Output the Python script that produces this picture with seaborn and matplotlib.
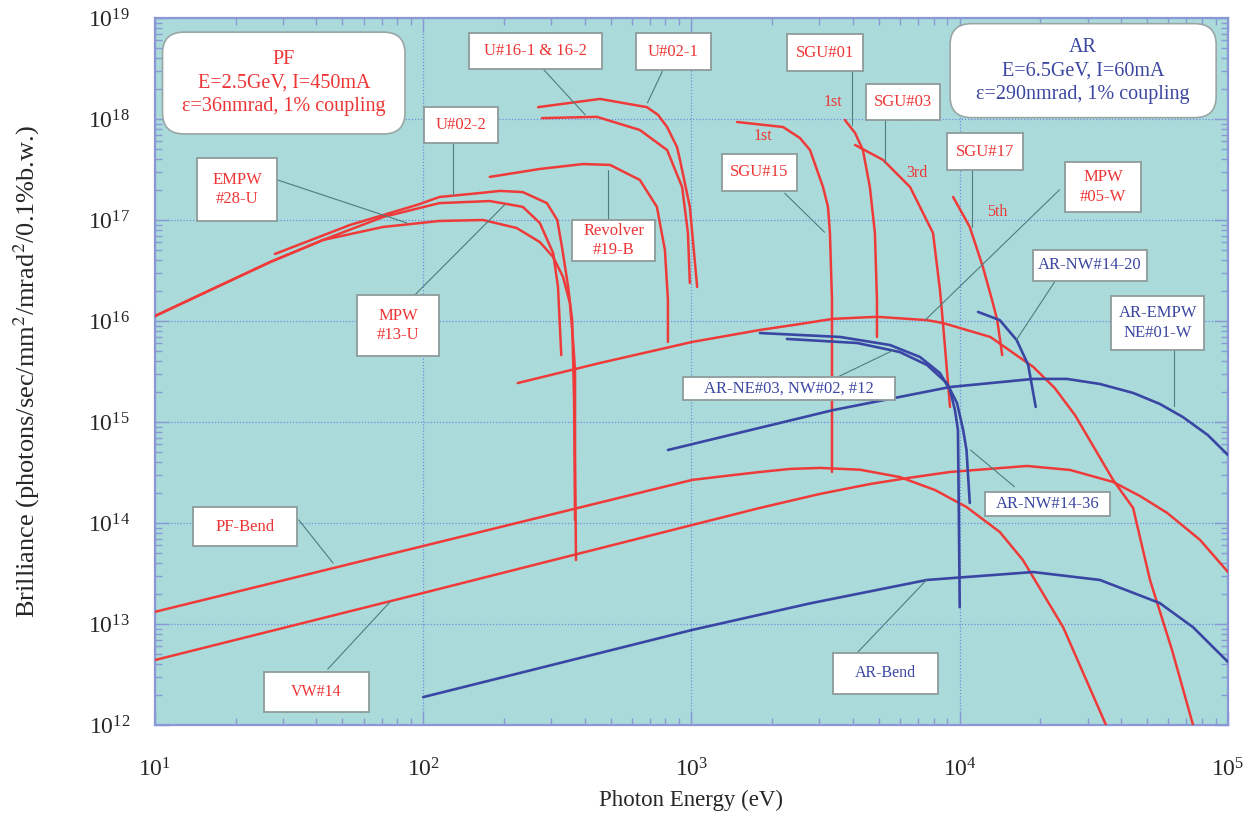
import numpy as np
import pandas as pd
import seaborn as sns
import matplotlib
matplotlib.use("Agg")
import matplotlib.pyplot as plt
from matplotlib.patches import FancyBboxPatch, Rectangle
from matplotlib.ticker import LogLocator, LogFormatterSciNotation, NullFormatter

# ---------------- data (photon energy in eV, brilliance) ----------------
E_pf_bend = [10, 100, 1005, 1334, 1800, 2328, 3010, 4246, 5980, 8090, 10600, 14100, 17200,
             24300, 35100]
B_pf_bend = [1.32e13, 5.92e13, 2.67e14, 2.92e14, 3.20e14, 3.43e14, 3.51e14, 3.37e14, 2.85e14,
             2.12e14, 1.44e14, 8.15e13, 4.3e13, 9.3e12, 1.0e12]

E_vw14 = [10, 100, 1005, 1800, 3010, 4624, 6410, 9200, 17800, 25800, 37300, 47000, 59300,
          78700, 100000]
B_vw14 = [4.40e12, 2.03e13, 9.55e13, 1.41e14, 1.94e14, 2.43e14, 2.79e14, 3.20e14, 3.67e14,
          3.35e14, 2.55e14, 1.85e14, 1.26e14, 6.8e13, 3.27e13]

E_mpw05 = [225, 456, 1005, 1800, 2535, 3365, 4915, 7550, 8660, 13000, 18800, 22600, 26900,
           37300, 44300, 51200, 61900, 74100]
B_mpw05 = [2.43e15, 3.84e15, 6.20e15, 8.15e15, 9.33e15, 1.05e16, 1.10e16, 1.02e16, 9.55e15,
           6.95e15, 3.51e15, 2.17e15, 1.17e15, 2.67e14, 1.41e14, 2.73e13, 5.5e12, 1.0e12]

E_empw28 = [10, 17, 26.9, 42.3, 70.8, 115, 167, 223, 272, 305, 332, 352, 361, 368, 368, 371]
B_empw28 = [1.12e16, 2.17e16, 3.84e16, 6.34e16, 8.53e16, 9.78e16, 1.0e17, 8.33e16, 6.05e16,
            4.30e16, 2.73e16, 1.51e16, 6.95e15, 3.27e15, 5.28e14, 4.30e13]

E_mpw13 = [10, 17, 26.9, 42.3, 70.8, 115, 177, 235, 272, 305, 318, 327]
B_mpw13 = [1.12e16, 2.17e16, 3.84e16, 6.34e16, 1.07e17, 1.47e17, 1.54e17, 1.35e17, 9.34e16,
           4.71e16, 2.17e16, 4.60e15]

E_u022 = [28.0, 53.3, 94.8, 115, 163, 193, 235, 289, 316, 329, 347, 359, 365, 368]
B_u022 = [4.61e16, 8.92e16, 1.41e17, 1.69e17, 1.85e17, 1.94e17, 1.89e17, 1.47e17, 1.0e17,
          5.41e16, 2.17e16, 1.02e16, 1.65e15, 1.07e14]

E_rev19 = [177, 272, 394, 497, 642, 743, 796, 817, 817]
B_rev19 = [2.67e17, 3.20e17, 3.58e17, 3.51e17, 2.49e17, 1.35e17, 5.05e16, 1.61e16, 6.20e15]

E_u021 = [268, 456, 682, 750, 811, 883, 906, 986, 1050]
B_u021 = [1.31e18, 1.58e18, 1.31e18, 1.10e18, 8.33e17, 5.28e17, 3.93e17, 1.35e17, 2.17e16]

E_u16 = [277, 444, 642, 811, 923, 970, 986]
B_u16 = [1.02e18, 1.05e18, 7.78e17, 4.93e17, 2.12e17, 7.44e16, 2.38e16]

E_sgu15 = [1479, 2195, 2535, 2766, 3093, 3228, 3282, 3340, 3340]
B_sgu15 = [9.34e17, 8.33e17, 6.49e17, 4.93e17, 2.12e17, 1.35e17, 7.44e16, 1.61e16, 3.20e14]

E_sgu01 = [3733, 4074, 4355, 4624, 4828, 4915, 4915]
B_sgu01 = [9.77e17, 7.26e17, 4.93e17, 2.12e17, 7.44e16, 1.61e16, 6.95e15]

E_sgu03 = [4074, 5180, 6530, 7950, 8440, 8660, 9200]
B_sgu03 = [5.53e17, 3.93e17, 2.12e17, 7.44e16, 2.03e16, 9.55e15, 1.41e15]

E_sgu17 = [9450, 10900, 12200, 13200, 13800, 14400]
B_sgu17 = [1.69e17, 8.53e16, 3.43e16, 1.61e16, 1.02e16, 4.60e15]

E_ar_bend = [100, 193, 1005, 2766, 7550, 18800, 33300, 55700, 74100, 100000]
B_ar_bend = [1.89e12, 2.92e12, 8.73e12, 1.6e13, 2.73e13, 3.27e13, 2.73e13, 1.61e13, 9.3e12, 4.21e12]

E_ar_empw = [817, 3365, 9200, 18800, 25100, 33300, 44300, 55700, 67900, 84100, 100000]
B_ar_empw = [5.28e14, 1.31e15, 2.22e15, 2.67e15, 2.67e15, 2.38e15, 1.94e15, 1.51e15, 1.12e15,
             7.43e14, 4.71e14]

E_ar_ne03 = [1800, 3580, 5500, 7110, 8440, 9200, 9600, 9850, 9930, 10000]
B_ar_ne03 = [7.60e15, 6.95e15, 5.78e15, 4.40e15, 3.05e15, 2.07e15, 1.31e15, 8.33e14, 1.07e14, 1.47e13]

E_ar_nw1436 = [2270, 4140, 5980, 7550, 8950, 9770, 10300, 10600, 10900]
B_ar_nw1436 = [6.64e15, 6.06e15, 4.93e15, 3.67e15, 2.43e15, 1.54e15, 8.33e14, 5.28e14, 1.58e14]

E_ar_nw1420 = [11700, 14100, 16300, 18000, 19200]
B_ar_nw1420 = [1.23e16, 1.02e16, 6.48e15, 3.67e15, 1.41e15]

x_ticks = [1e1, 1e2, 1e3, 1e4, 1e5]
y_ticks = [1e12, 1e13, 1e14, 1e15, 1e16, 1e17, 1e18, 1e19]

# ---------------- style ----------------
RED = "#ef3a3a"
BLUE = "#3a46a3"
TXT_RED = "#ee3535"
TXT_BLUE = "#3b47a0"
BG = "#aadbda"
AXC = "#8a98d6"
LEAD = "#4f7d7e"

sns.set_theme(style="ticks")
plt.rcParams["font.family"] = ["Liberation Serif", "DejaVu Serif"]
plt.rcParams["mathtext.fontset"] = "stix"

fig = plt.figure(figsize=(12.52, 8.25), dpi=100)
ax = fig.add_axes([0.1238, 0.1212, 0.857, 0.857])
ax.set_facecolor(BG)
ax.set_xscale("log")
ax.set_yscale("log")

red_curves = [(E_pf_bend, B_pf_bend), (E_vw14, B_vw14), (E_mpw05, B_mpw05),
              (E_empw28, B_empw28), (E_mpw13, B_mpw13), (E_u022, B_u022),
              (E_rev19, B_rev19), (E_u021, B_u021), (E_u16, B_u16),
              (E_sgu15, B_sgu15), (E_sgu01, B_sgu01), (E_sgu03, B_sgu03),
              (E_sgu17, B_sgu17)]
blue_curves = [(E_ar_bend, B_ar_bend), (E_ar_empw, B_ar_empw), (E_ar_ne03, B_ar_ne03),
               (E_ar_nw1436, B_ar_nw1436), (E_ar_nw1420, B_ar_nw1420)]

for E, B in red_curves:
    sns.lineplot(x=E, y=B, ax=ax, color=RED, lw=1.8, sort=False, estimator=None, zorder=3)
for E, B in blue_curves:
    sns.lineplot(x=E, y=B, ax=ax, color=BLUE, lw=1.9, sort=False, estimator=None, zorder=3)

ax.set_xticks(x_ticks)
ax.set_yticks(y_ticks)
ax.xaxis.set_minor_locator(LogLocator(base=10, subs=np.arange(2, 10), numticks=20))
ax.yaxis.set_minor_locator(LogLocator(base=10, subs=np.arange(2, 10), numticks=20))
ax.xaxis.set_major_formatter(LogFormatterSciNotation())
ax.yaxis.set_major_formatter(LogFormatterSciNotation())
ax.xaxis.set_minor_formatter(NullFormatter())
ax.yaxis.set_minor_formatter(NullFormatter())
ax.set_xlim(10, 1e5)
ax.set_ylim(1e12, 1e19)

ax.grid(which="major", color="#6b8ee0", ls=(0, (1, 1.5)), lw=0.9)
ax.set_axisbelow(True)
ax.tick_params(which="both", direction="in", top=True, right=True, color=AXC, labelsize=17)
ax.tick_params(which="major", length=10, width=1.0)
ax.tick_params(which="minor", length=5, width=1.0)
ax.tick_params(axis="x", which="major", pad=24)
ax.tick_params(axis="y", which="major", pad=18)
for s in ax.spines.values():
    s.set_color(AXC)
    s.set_linewidth(1.6)

ax.set_xlabel("Photon Energy (eV)", fontsize=16.5)
ax.set_ylabel("Brilliance (photons/sec/mm$^2$/mrad$^2$/0.1%b.w.)", fontsize=19)
ax.xaxis.set_label_coords(0.5, -0.092)
ax.yaxis.set_label_coords(-0.105, 0.5)

# ---------------- annotations (axes-fraction layout) ----------------
T = ax.transAxes


def info_box(x0, y0, x1, y1, tx, ty, text, color):
    p = FancyBboxPatch((x0, y0), x1 - x0, y1 - y0, transform=T,
                       boxstyle="round,pad=0,rounding_size=0.02", mutation_aspect=1.5,
                       facecolor="white", edgecolor="#9aa6a6", lw=1.2, zorder=6)
    ax.add_patch(p)
    ax.text(tx, ty, text, transform=T, ha="center", va="center", color=color,
            fontsize=14.5, linespacing=1.35, zorder=7)


def label_box(x0, y0, x1, y1, text, color, fs=12):
    r = Rectangle((x0, y0), x1 - x0, y1 - y0, transform=T, facecolor="white",
                  edgecolor="#8e9b9b", lw=1.3, zorder=6)
    ax.add_patch(r)
    ax.text((x0 + x1) / 2, (y0 + y1) / 2, text, transform=T, ha="center", va="center",
            color=color, fontsize=fs, linespacing=1.3, zorder=7)


def leader(x0, y0, x1, y1):
    ax.plot([x0, x1], [y0, y1], transform=T, color=LEAD, lw=0.8, zorder=5)


info_box(0.007, 0.836, 0.233, 0.980, 0.120, 0.908,
         "PF\nE=2.5GeV, I=450mA\nε=36nmrad, 1% coupling", TXT_RED)
info_box(0.741, 0.859, 0.989, 0.992, 0.865, 0.925,
         "AR\nE=6.5GeV, I=60mA\nε=290nmrad, 1% coupling", TXT_BLUE)

label_box(0.293, 0.928, 0.417, 0.979, "U#16-1 & 16-2", TXT_RED)
label_box(0.448, 0.926, 0.518, 0.979, "U#02-1", TXT_RED)
label_box(0.251, 0.823, 0.320, 0.874, "U#02-2", TXT_RED)
label_box(0.039, 0.713, 0.114, 0.802, "EMPW\n#28-U", TXT_RED)
label_box(0.188, 0.522, 0.265, 0.608, "MPW\n#13-U", TXT_RED)
label_box(0.389, 0.656, 0.466, 0.714, "Revolver\n#19-B", TXT_RED)
label_box(0.589, 0.925, 0.660, 0.977, "SGU#01", TXT_RED)
label_box(0.663, 0.856, 0.732, 0.907, "SGU#03", TXT_RED)
label_box(0.528, 0.755, 0.598, 0.808, "SGU#15", TXT_RED)
label_box(0.738, 0.785, 0.809, 0.837, "SGU#17", TXT_RED)
label_box(0.848, 0.726, 0.919, 0.796, "MPW\n#05-W", TXT_RED)
label_box(0.035, 0.253, 0.132, 0.308, "PF-Bend", TXT_RED)
label_box(0.102, 0.018, 0.199, 0.075, "VW#14", TXT_RED, fs=11.5)
label_box(0.818, 0.628, 0.925, 0.672, "AR-NW#14-20", TXT_BLUE)
label_box(0.891, 0.530, 0.978, 0.607, "AR-EMPW\nNE#01-W", TXT_BLUE)
label_box(0.492, 0.460, 0.690, 0.492, "AR-NE#03, NW#02, #12", TXT_BLUE)
label_box(0.774, 0.296, 0.890, 0.330, "AR-NW#14-36", TXT_BLUE)
label_box(0.632, 0.044, 0.730, 0.102, "AR-Bend", TXT_BLUE, fs=11.5)

for tx, ty, s in [(0.567, 0.833, "1st"), (0.632, 0.881, "1st"),
                  (0.710, 0.781, "3rd"), (0.785, 0.726, "5th")]:
    ax.text(tx, ty, s, transform=T, ha="center", va="center", color=TXT_RED,
            fontsize=11.5, zorder=7)

leader(0.361, 0.929, 0.401, 0.863)
leader(0.473, 0.925, 0.459, 0.880)
leader(0.278, 0.823, 0.278, 0.750)
leader(0.114, 0.771, 0.235, 0.710)
leader(0.242, 0.608, 0.326, 0.736)
leader(0.422, 0.714, 0.422, 0.785)
leader(0.650, 0.925, 0.650, 0.849)
leader(0.680, 0.856, 0.680, 0.796)
leader(0.587, 0.752, 0.624, 0.697)
leader(0.761, 0.785, 0.761, 0.704)
leader(0.843, 0.757, 0.718, 0.573)
leader(0.839, 0.628, 0.803, 0.545)
leader(0.950, 0.530, 0.950, 0.451)
leader(0.636, 0.492, 0.688, 0.530)
leader(0.801, 0.337, 0.760, 0.389)
leader(0.134, 0.290, 0.166, 0.229)
leader(0.161, 0.079, 0.219, 0.174)
leader(0.655, 0.103, 0.719, 0.205)

fig.savefig("out.png", dpi=100, facecolor="white")
